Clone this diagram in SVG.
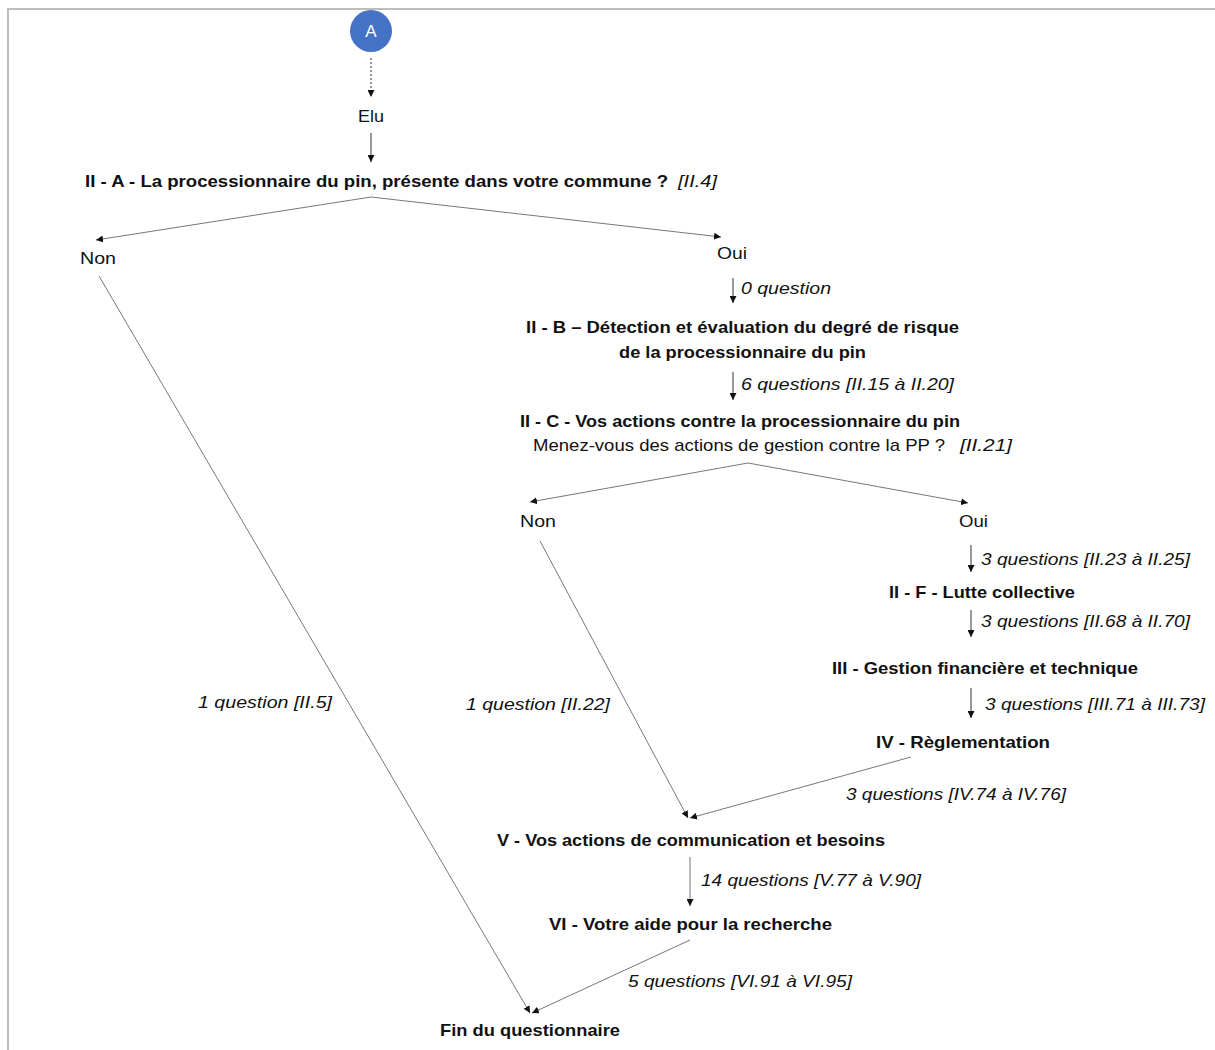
<svg xmlns="http://www.w3.org/2000/svg" width="1215" height="1050" viewBox="0 0 1215 1050">
<style>
text{font-family:"Liberation Sans",Arial,sans-serif;fill:#111;font-size:16.5px}
.b{font-weight:bold}
.i{font-style:italic}
.r{font-size:17px}
.ln{stroke:#777;stroke-width:1;fill:none}
.ar{stroke:#333;stroke-width:1;fill:none}
</style>
<defs>
<marker id="ah" markerUnits="userSpaceOnUse" markerWidth="8" markerHeight="7" refX="7" refY="3.5" orient="auto">
<path d="M0,0 L7,3.5 L0,7 z" fill="#111"/>
</marker>
</defs>
<rect width="1215" height="1050" fill="#fff"/>
<path d="M8,1050 V9 H1215" fill="none" stroke="#bdbdbd" stroke-width="2"/>

<g id="connectors">
<line class="ar" x1="371" y1="58" x2="371" y2="97" stroke-dasharray="2,2" marker-end="url(#ah)"/>
<line class="ar" x1="371" y1="133" x2="371" y2="162" marker-end="url(#ah)"/>
<line class="ln" x1="371" y1="197" x2="96" y2="240" marker-end="url(#ah)"/>
<line class="ln" x1="371" y1="197" x2="721" y2="237" marker-end="url(#ah)"/>
<line class="ln" x1="99" y1="276" x2="530" y2="1013" marker-end="url(#ah)"/>
<line class="ar" x1="733" y1="278" x2="733" y2="303" marker-end="url(#ah)"/>
<line class="ar" x1="733" y1="372" x2="733" y2="400" marker-end="url(#ah)"/>
<line class="ln" x1="748" y1="463" x2="530" y2="502" marker-end="url(#ah)"/>
<line class="ln" x1="748" y1="463" x2="968" y2="503" marker-end="url(#ah)"/>
<line class="ln" x1="540" y1="541" x2="688" y2="818" marker-end="url(#ah)"/>
<line class="ar" x1="971" y1="545" x2="971" y2="572" marker-end="url(#ah)"/>
<line class="ar" x1="971" y1="610" x2="971" y2="637" marker-end="url(#ah)"/>
<line class="ar" x1="971" y1="688" x2="971" y2="718" marker-end="url(#ah)"/>
<line class="ln" x1="911" y1="757" x2="690" y2="818" marker-end="url(#ah)"/>
<line class="ln" x1="690" y1="857" x2="690" y2="906" marker-end="url(#ah)"/>
<line class="ln" x1="690" y1="940" x2="532" y2="1013" marker-end="url(#ah)"/>
</g>

<g id="label-0q"><text class="i" x="741" y="294" textLength="90" lengthAdjust="spacingAndGlyphs">0 question</text></g>
<g id="label-6q"><text class="i" x="741" y="390" textLength="213" lengthAdjust="spacingAndGlyphs">6 questions [II.15 à II.20]</text></g>
<g id="label-1q5"><text class="i" x="198" y="708" textLength="134" lengthAdjust="spacingAndGlyphs">1 question [II.5]</text></g>
<g id="label-1q22"><text class="i" x="466" y="710" textLength="144" lengthAdjust="spacingAndGlyphs">1 question [II.22]</text></g>
<g id="label-3q23"><text class="i" x="981" y="565" textLength="209" lengthAdjust="spacingAndGlyphs">3 questions [II.23 à II.25]</text></g>
<g id="label-3q68"><text class="i" x="981" y="627" textLength="209" lengthAdjust="spacingAndGlyphs">3 questions [II.68 à II.70]</text></g>
<g id="label-3q71"><text class="i" x="985" y="710" textLength="220" lengthAdjust="spacingAndGlyphs">3 questions [III.71 à III.73]</text></g>
<g id="label-3q74"><text class="i" x="846" y="800" textLength="220" lengthAdjust="spacingAndGlyphs">3 questions [IV.74 à IV.76]</text></g>
<g id="label-14q"><text class="i" x="701" y="886" textLength="220" lengthAdjust="spacingAndGlyphs">14 questions [V.77 à V.90]</text></g>
<g id="label-5q"><text class="i" x="628" y="987" textLength="224" lengthAdjust="spacingAndGlyphs">5 questions [VI.91 à VI.95]</text></g>

<g id="node-A">
<circle cx="371" cy="31" r="21" fill="#4472C4"/>
<text x="371" y="37" text-anchor="middle" style="fill:#fff;font-size:17px">A</text>
</g>
<g id="node-elu"><text class="r" x="358" y="122" textLength="26" lengthAdjust="spacingAndGlyphs">Elu</text></g>
<g id="node-IIA">
<text class="b" x="85" y="187" textLength="583" lengthAdjust="spacingAndGlyphs">II - A - La processionnaire du pin, présente dans votre commune ?</text>
<text class="i" x="678" y="187" textLength="39" lengthAdjust="spacingAndGlyphs">[II.4]</text>
</g>
<g id="node-non1"><text class="r" x="80" y="264" textLength="36" lengthAdjust="spacingAndGlyphs">Non</text></g>
<g id="node-oui1"><text class="r" x="717" y="259" textLength="30" lengthAdjust="spacingAndGlyphs">Oui</text></g>
<g id="node-IIB">
<text class="b" x="526" y="333" textLength="433" lengthAdjust="spacingAndGlyphs">II - B – Détection et évaluation du degré de risque</text>
<text class="b" x="619" y="358" textLength="247" lengthAdjust="spacingAndGlyphs">de la processionnaire du pin</text>
</g>
<g id="node-IIC">
<text class="b" x="520" y="427" textLength="440" lengthAdjust="spacingAndGlyphs">II - C - Vos actions contre la processionnaire du pin</text>
<text class="r" x="533" y="451" textLength="412" lengthAdjust="spacingAndGlyphs">Menez-vous des actions de gestion contre la PP ?</text>
<text class="i" x="960" y="451" textLength="52" lengthAdjust="spacingAndGlyphs">[II.21]</text>
</g>
<g id="node-non2"><text class="r" x="520" y="527" textLength="36" lengthAdjust="spacingAndGlyphs">Non</text></g>
<g id="node-oui2"><text class="r" x="959" y="527" textLength="29" lengthAdjust="spacingAndGlyphs">Oui</text></g>
<g id="node-IIF"><text class="b" x="889" y="598" textLength="186" lengthAdjust="spacingAndGlyphs">II - F - Lutte collective</text></g>
<g id="node-III"><text class="b" x="832" y="674" textLength="306" lengthAdjust="spacingAndGlyphs">III - Gestion financière et technique</text></g>
<g id="node-IV"><text class="b" x="876" y="748" textLength="174" lengthAdjust="spacingAndGlyphs">IV - Règlementation</text></g>
<g id="node-V"><text class="b" x="497" y="846" textLength="388" lengthAdjust="spacingAndGlyphs">V - Vos actions de communication et besoins</text></g>
<g id="node-VI"><text class="b" x="549" y="930" textLength="283" lengthAdjust="spacingAndGlyphs">VI - Votre aide pour la recherche</text></g>
<g id="node-fin"><text class="b" x="440" y="1036" textLength="180" lengthAdjust="spacingAndGlyphs">Fin du questionnaire</text></g>
</svg>
